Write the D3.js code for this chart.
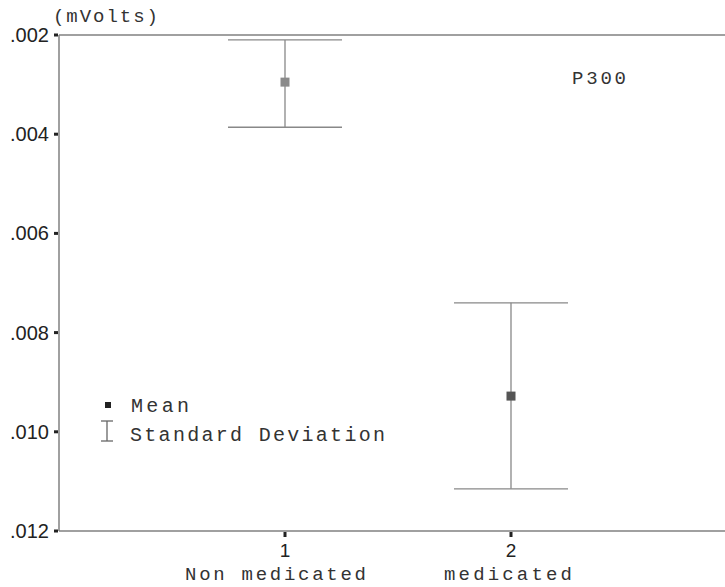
<!DOCTYPE html>
<html>
<head>
<meta charset="utf-8">
<script src="https://cdn.jsdelivr.net/npm/d3@7"></script>
<style>
  body { margin: 0; background: #fff; }
  .mono { font-family: "Courier New", "Liberation Mono", monospace; fill: #333; }
  .tick-label { font-family: "Liberation Sans", Arial, sans-serif; fill: #222; }
</style>
</head>
<body>
<div id="chart"></div>
<script>
// Data
const groups = [1, 2];
const groupNames = ["Non medicated", "medicated"];
const means = [0.00295, 0.00928];
const sdLow = [0.00210, 0.00740];   // upper cap (smaller value)
const sdHigh = [0.00386, 0.01115];  // lower cap (larger value)
const yTicks = [0.002, 0.004, 0.006, 0.008, 0.010, 0.012];
const markerColors = ["#8a8a8a", "#555555"];

const width = 725, height = 587;
const svg = d3.select("#chart").append("svg")
    .attr("width", width)
    .attr("height", height);

// Scales
const x = d3.scaleLinear().domain([0, 3]).range([59, 737]);
const y = d3.scaleLinear().domain([0.002, 0.012]).range([35, 531]);

// helper for the monospace labels, width fixed to match the figure
function mono(txt, x0, y0, len, size) {
    return svg.append("text").attr("class", "mono")
        .attr("x", x0).attr("y", y0)
        .attr("textLength", len)
        .attr("lengthAdjust", "spacing")
        .style("font-size", size + "px")
        .text(txt);
}

// Frame lines (top, bottom, left)
svg.append("line").attr("x1", 59).attr("x2", width).attr("y1", y(0.002)).attr("y2", y(0.002))
    .attr("stroke", "#808080").attr("stroke-width", 1.5);
svg.append("line").attr("x1", 59).attr("x2", width).attr("y1", y(0.012)).attr("y2", y(0.012))
    .attr("stroke", "#808080").attr("stroke-width", 1.5);
svg.append("line").attr("x1", 59).attr("x2", 59).attr("y1", y(0.002)).attr("y2", y(0.012))
    .attr("stroke", "#808080").attr("stroke-width", 1.5);

// Y axis ticks and labels
svg.selectAll(".ytick").data(yTicks).enter().append("rect")
    .attr("x", 54).attr("y", d => y(d) - 1.5)
    .attr("width", 4).attr("height", 3)
    .attr("fill", "#222");
svg.selectAll(".ylab").data(yTicks).enter().append("text")
    .attr("class", "tick-label")
    .attr("x", 49).attr("y", d => y(d) + 7)
    .attr("text-anchor", "end")
    .style("font-size", "20px")
    .text(d => d3.format(".3f")(d).replace(/^0/, ""));

// X axis ticks and labels
svg.selectAll(".xtick").data(groups).enter().append("rect")
    .attr("x", d => x(d) - 1.5).attr("y", 532)
    .attr("width", 3).attr("height", 5)
    .attr("fill", "#222");
svg.selectAll(".xlab").data(groups).enter().append("text")
    .attr("class", "tick-label")
    .attr("x", d => x(d)).attr("y", 557)
    .attr("text-anchor", "middle")
    .style("font-size", "19px")
    .text(d => d);
const nameLen = [181, 128];
const nameShift = [-9.5, -3];
groupNames.forEach((n, i) => {
    mono(n, x(groups[i]) + nameShift[i] - nameLen[i] / 2, 580, nameLen[i], 19);
});

// Unit label and title
mono("(mVolts)", 53, 22, 105, 19);
mono("P300", 572, 84, 54, 19);

// Error bars
const capHalf = 57;
groups.forEach((g, i) => {
    const cx = x(g);
    svg.append("line").attr("x1", cx).attr("x2", cx)
        .attr("y1", y(sdLow[i])).attr("y2", y(sdHigh[i]))
        .attr("stroke", "#888").attr("stroke-width", 1.3);
    [sdLow[i], sdHigh[i]].forEach(v => {
        svg.append("line").attr("x1", cx - capHalf).attr("x2", cx + capHalf)
            .attr("y1", y(v)).attr("y2", y(v))
            .attr("stroke", "#888").attr("stroke-width", 1.3);
    });
    svg.append("rect")
        .attr("x", cx - 4.5).attr("y", y(means[i]) - 4.5)
        .attr("width", 9).attr("height", 9)
        .attr("fill", markerColors[i]);
});

// Legend
svg.append("rect").attr("x", 105).attr("y", 402).attr("width", 6).attr("height", 6).attr("fill", "#222");
mono("Mean", 131, 412, 58, 20);
const lx = 107, ly1 = 421, ly2 = 441;
svg.append("line").attr("x1", lx).attr("x2", lx).attr("y1", ly1).attr("y2", ly2).attr("stroke", "#666").attr("stroke-width", 1.3);
svg.append("line").attr("x1", lx - 6).attr("x2", lx + 6).attr("y1", ly1).attr("y2", ly1).attr("stroke", "#666").attr("stroke-width", 1.3);
svg.append("line").attr("x1", lx - 6).attr("x2", lx + 6).attr("y1", ly2).attr("y2", ly2).attr("stroke", "#666").attr("stroke-width", 1.3);
mono("Standard Deviation", 130, 441, 255, 20);
</script>
</body>
</html>
